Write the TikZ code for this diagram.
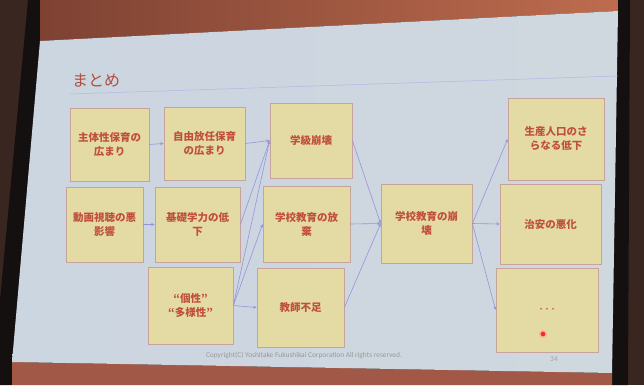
\documentclass[tikz,border=0pt]{standalone}
\usepackage{fontspec}
\newfontfamily\jp{Noto Sans CJK JP}
\newfontfamily\lat{Carlito}
\usetikzlibrary{arrows.meta}
\definecolor{wall}{HTML}{3A2620}
\definecolor{frame}{HTML}{141010}
\definecolor{bandlo}{HTML}{7E4233}
\definecolor{bandhi}{HTML}{BE6C4E}
\definecolor{bandbot}{HTML}{A25846}
\definecolor{slideA}{HTML}{CCD6E0}
\definecolor{slideB}{HTML}{DDE3E9}
\definecolor{slideC}{HTML}{CFD7DF}
\definecolor{boxfill}{HTML}{E4DBA4}
\definecolor{boxline}{HTML}{C6A49C}
\definecolor{txt}{HTML}{C0503C}
\definecolor{ttl}{HTML}{B0503E}
\definecolor{arr}{HTML}{9494DC}
\tikzset{
  card/.style={draw=boxline, line width=0.7pt, fill=boxfill, inner sep=0pt,
    align=center, text=txt, font=\jp\bfseries\fontsize{10.5}{14}\selectfont},
  conn/.style={draw=arr, line width=0.6pt, -{Stealth[length=3.5pt,width=3pt]}}
}
\begin{document}
\begin{tikzpicture}[x=1pt,y=-1pt]
\useasboundingbox (0,0) rectangle (644,385);
% surroundings
\fill[wall] (0,0) rectangle (644,385);
\fill[frame] (28,0) -- (40,0) -- (40,41) -- (12,362) -- (12,385) -- (0,385) -- (0,300) -- cycle;
\fill[frame] (616,0) -- (630,0) -- (628,385) -- (612,385) -- cycle;
\shade[left color=bandlo, right color=bandhi] (40,0) -- (618,0) -- (618,11) -- (40,41) -- cycle;
\fill[bandbot] (12,362) -- (612,373) -- (612,385) -- (12,385) -- cycle;
% slide
\shade[left color=slideA, middle color=slideB, right color=slideC]
  (40,41) -- (618,11) -- (612,373) -- (12,362) -- cycle;
% title
\node[anchor=west, text=ttl, font=\jp\fontsize{16}{18}\selectfont, inner sep=0pt] (title) at (72,81) {まとめ};
\coordinate (ulA) at (70,94);
\coordinate (ulB) at (618,76);
\draw[arr!70, line width=0.5pt] (ulA) -- (ulB);
% boxes
\node[card, minimum width=79pt, minimum height=73pt] (a) at (109.5,144.5) {主体性保育の\\広まり};
\node[card, minimum width=81pt, minimum height=73pt] (b) at (204.5,143.5) {自由放任保育\\の広まり};
\node[card, minimum width=82pt, minimum height=75pt] (c) at (311,140.5) {学級崩壊};
\node[card, minimum width=77pt, minimum height=75pt] (d) at (104.5,224.5) {動画視聴の悪\\影響};
\node[card, minimum width=85pt, minimum height=75pt] (e) at (197.5,224.5) {基礎学力の低\\下};
\node[card, minimum width=85pt, minimum height=77pt] (f) at (190.5,305.5) {“個性”\\“多様性”};
\node[card, minimum width=87pt, minimum height=76pt] (g) at (306.5,224) {学校教育の放\\棄};
\node[card, minimum width=87pt, minimum height=79pt] (h) at (300.5,307.5) {教師不足};
\node[card, minimum width=91pt, minimum height=79pt] (i) at (426.5,223.5) {学校教育の崩\\壊};
\node[card, minimum width=96pt, minimum height=82pt] (j) at (556,139) {生産人口のさ\\らなる低下};
\node[card, minimum width=101pt, minimum height=80pt] (k) at (550.5,224) {治安の悪化};
\node[card, minimum width=102pt, minimum height=84pt] (l) at (547,310) {\fontsize{6}{8}\selectfont ・・・};
% laser dot
\fill[red!40, opacity=0.6] (543,334) circle (4);
\fill[red!85!white] (543,334) circle (2.3);
% connectors
\draw[conn] (a.east) -- (b.west);
\draw[conn] (b.east) -- (c.west);
\draw[conn] (d.east) -- (e.west);
\draw[conn] (e.east) -- (c.west);
\draw[conn] (f.east) -- (c.west);
\draw[conn] (f.east) -- (g.west);
\draw[conn] (f.east) -- (h.west);
\draw[conn] (c.east) -- (i.west);
\draw[conn] (g.east) -- (i.west);
\draw[conn] (h.east) -- (i.west);
\draw[conn] (i.east) -- (j.west);
\draw[conn] (i.east) -- (k.west);
\draw[conn] (i.east) -- (l.west);
% footer
\node[text=gray!80, font=\lat\fontsize{7.4}{9}\selectfont, inner sep=0pt] (copy) at (304,355) {Copyright(C) Yoshitake Fukushikai Corporation All rights reserved.};
\node[text=gray!70, font=\lat\fontsize{7.5}{9}\selectfont, inner sep=0pt] (page) at (554,359) {34};
\end{tikzpicture}
\end{document}
